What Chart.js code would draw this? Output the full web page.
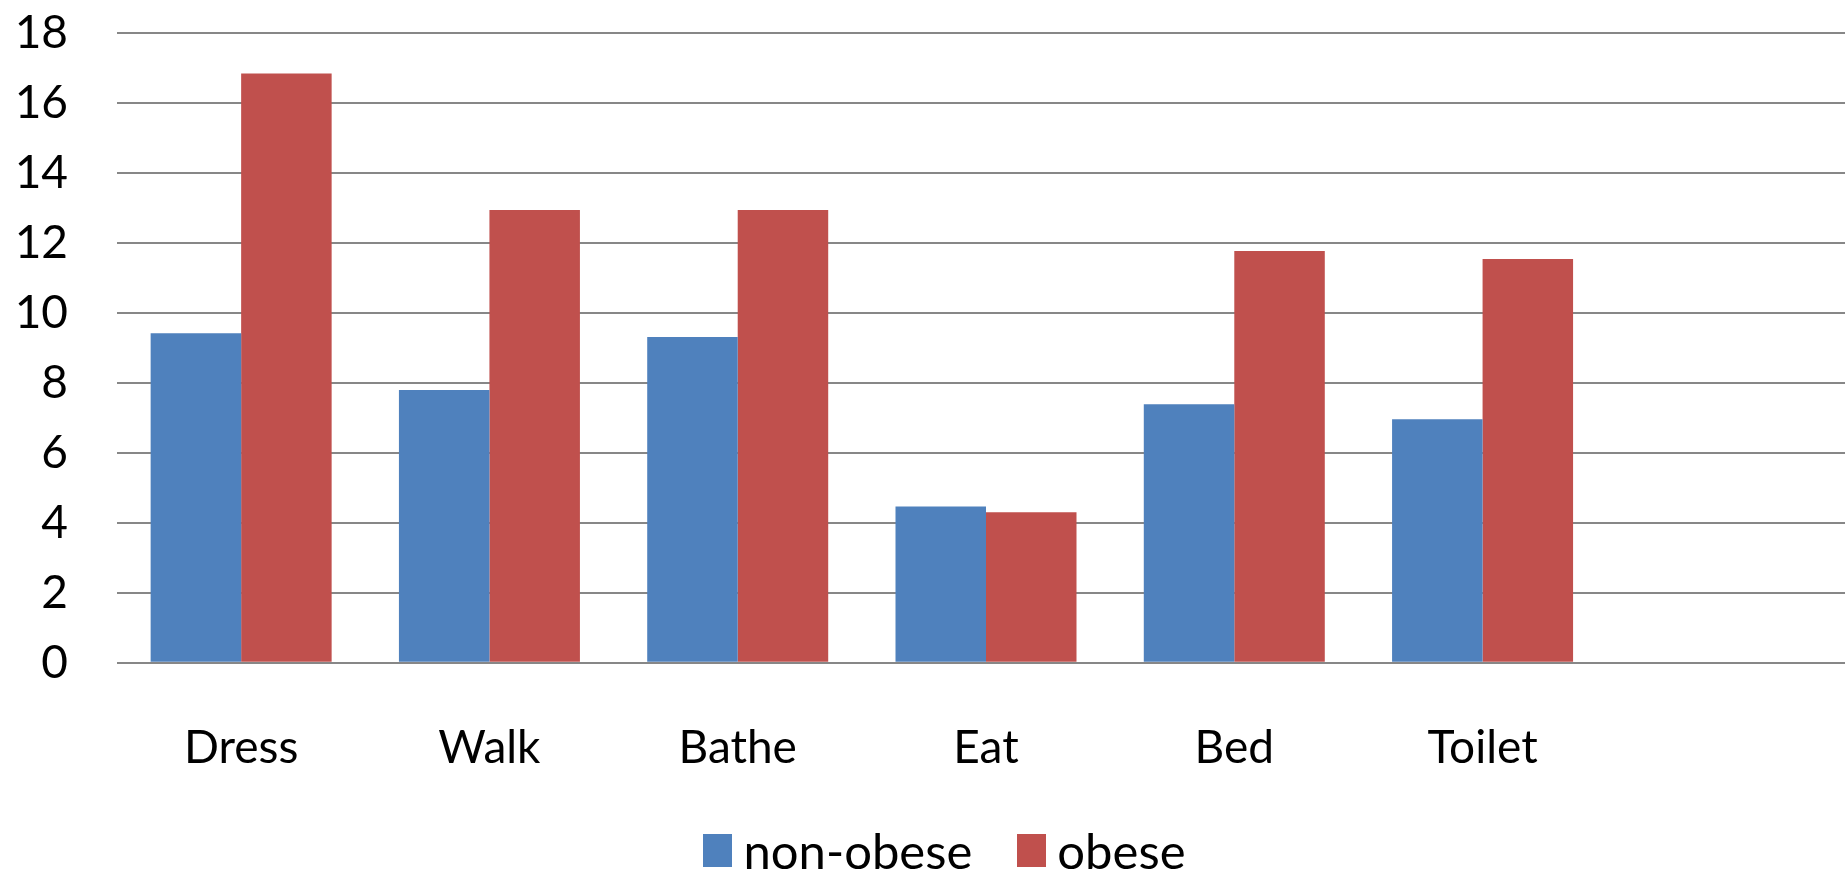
<!DOCTYPE html>
<html>
<head>
<meta charset="utf-8">
<title>Obese vs non-obese</title>
<script src="https://cdn.jsdelivr.net/npm/chart.js@4.4.0/dist/chart.umd.min.js"></script>
<style>
    html, body { margin: 0; padding: 0; background: #fff; overflow: hidden; }
    #wrap { position: relative; width: 1855px; height: 869px; }
    .adl-legend {
        position: absolute;
        left: 0;
        top: 822px;
        width: 1889px;
        height: 56px;
        display: flex;
        justify-content: center;
        align-items: center;
        font-family: Lato, "Open Sans", sans-serif;
        font-size: 49px;
        color: #000;
        white-space: nowrap;
    }
    .adl-legend-item { display: flex; align-items: center; margin-right: 45px; }
    .adl-legend-item:last-child { margin-right: 0; }
    .adl-legend-box { width: 29px; height: 33px; margin-right: 11px; }
</style>
</head>
<body>
<div id="wrap">
    <canvas id="adl-chart" width="1855" height="869"></canvas>
    <div class="adl-legend" id="adl-legend"></div>
</div>
<script>
// Atividades (a última categoria fica vazia, como no gráfico original)
const activities = ['Dress', 'Walk', 'Bathe', 'Eat', 'Bed', 'Toilet', ''];
const nonObese = [9.42, 7.8, 9.31, 4.47, 7.39, 6.96, null];
const obese = [16.84, 12.94, 12.94, 4.3, 11.77, 11.54, null];
const seriesNames = ['non-obese', 'obese'];
const seriesColors = ['#4F81BD', '#C0504D'];

const FONT = 'Lato, "Open Sans", sans-serif';

let adlChart = null;

function createAdlChart() {
    const ctx = document.getElementById('adl-chart');

    adlChart = new Chart(ctx, {
        type: 'bar',
        data: {
            labels: activities,
            datasets: [
                {
                    label: seriesNames[0],
                    data: nonObese,
                    backgroundColor: seriesColors[0],
                    borderWidth: 0
                },
                {
                    label: seriesNames[1],
                    data: obese,
                    backgroundColor: seriesColors[1],
                    borderWidth: 0
                }
            ]
        },
        options: {
            responsive: false,
            animation: false,
            layout: {
                padding: { left: 0, right: 0, top: 33, bottom: 35 }
            },
            datasets: {
                bar: {
                    barPercentage: 1,
                    categoryPercentage: 0.729
                }
            },
            scales: {
                x: {
                    grid: { display: false, drawTicks: false },
                    border: { display: false },
                    ticks: {
                        color: '#000',
                        padding: 58,
                        maxRotation: 0,
                        autoSkip: false,
                        font: { family: FONT, size: 46 }
                    }
                },
                y: {
                    min: 0,
                    max: 18,
                    afterFit: function(scale) {
                        // largura fixa do eixo e sem folga extra em cima/embaixo
                        scale.width = 117;
                        scale.paddingTop = 0;
                        scale.paddingBottom = 0;
                    },
                    grid: {
                        color: '#878787',
                        lineWidth: 2,
                        drawTicks: false
                    },
                    border: { display: false },
                    ticks: {
                        stepSize: 2,
                        autoSkip: false,
                        color: '#000',
                        padding: 49,
                        font: { family: FONT, size: 46 }
                    }
                }
            },
            plugins: {
                legend: { display: false },
                tooltip: { enabled: false }
            }
        }
    });

    renderLegend(adlChart);
}

/**
 * Monta a legenda em HTML a partir dos datasets do gráfico
 */
function renderLegend(chart) {
    const container = document.getElementById('adl-legend');
    container.innerHTML = chart.data.datasets.map(ds => `
        <div class="adl-legend-item">
            <span class="adl-legend-box" style="background:${ds.backgroundColor}"></span>
            <span>${ds.label}</span>
        </div>
    `).join('');
}

createAdlChart();
</script>
</body>
</html>
